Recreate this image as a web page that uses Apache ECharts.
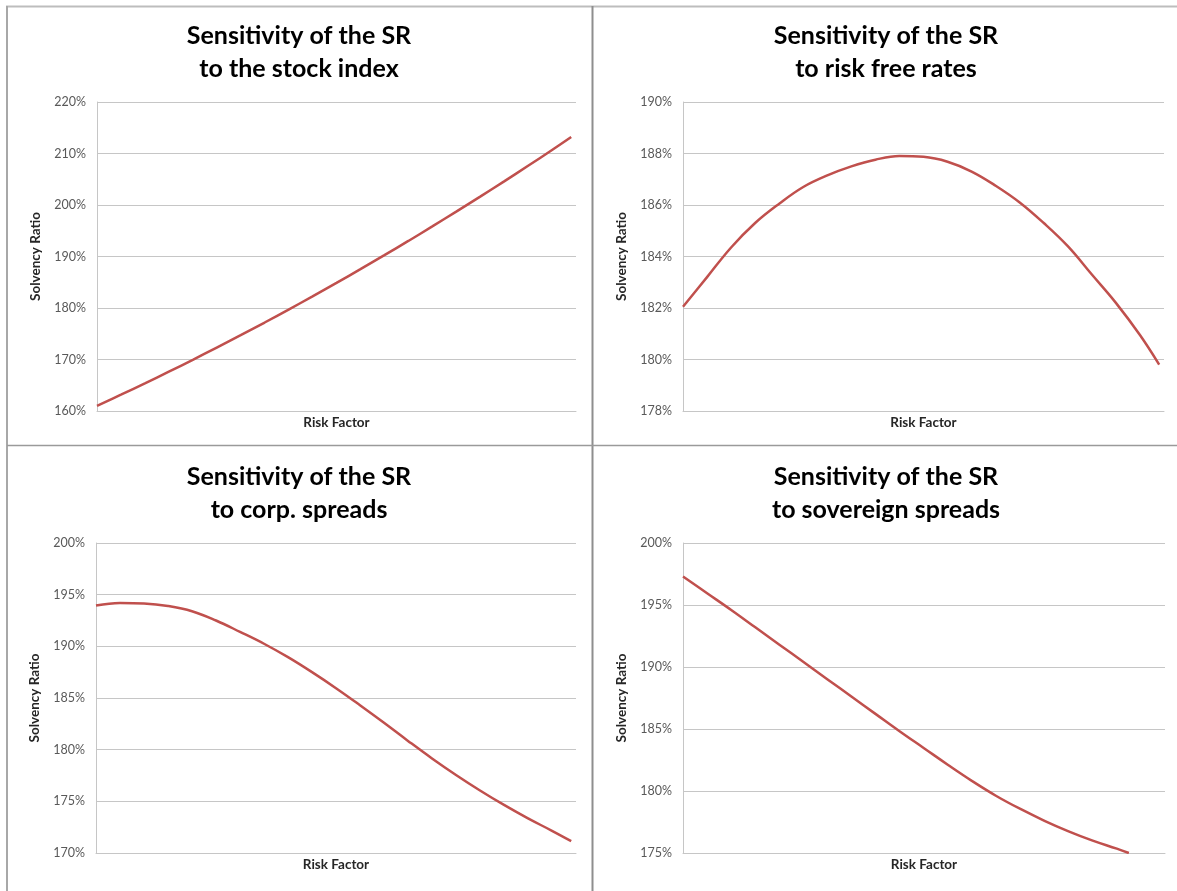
<!DOCTYPE html>
<html>
<head>
<meta charset="utf-8">
<script src="https://cdn.jsdelivr.net/npm/echarts@6/dist/echarts.min.js"></script>
<style>
  html, body { margin: 0; padding: 0; background: #ffffff; }
  #chart { width: 1177px; height: 891px; }
</style>
</head>
<body>
<div id="chart"></div>
<script>
// ---- Data (x = position along the risk factor axis, % of range) ----
const riskFactor = [0, 5, 10, 15, 20, 25, 30, 35, 40, 45, 50, 55, 60, 65, 70, 75, 80, 85, 90, 95, 99];
const riskFactorSov = [0, 5, 10, 15, 20, 25, 30, 35, 40, 45, 50, 55, 60, 65, 70, 75, 80, 85, 90, 92.5];

const srStockIndex = [161.0, 163.16, 165.37, 167.63, 169.94, 172.31, 174.72, 177.18, 179.7, 182.26, 184.88,
                      187.54, 190.26, 193.02, 195.84, 198.71, 201.62, 204.59, 207.61, 210.68, 213.2];
const srRiskFree   = [182.05, 183.2, 184.35, 185.3, 186.05, 186.7, 187.15, 187.5, 187.76, 187.9, 187.87,
                      187.68, 187.3, 186.75, 186.1, 185.3, 184.4, 183.3, 182.2, 180.95, 179.8];
const srCorpSpread = [193.95, 194.2, 194.15, 193.9, 193.4, 192.5, 191.4, 190.25, 188.95, 187.5, 185.95,
                      184.3, 182.6, 180.85, 179.15, 177.55, 176.05, 174.65, 173.35, 172.15, 171.15];
const srSovSpread  = [197.3, 195.95, 194.6, 193.2, 191.8, 190.4, 189.0, 187.6, 186.2, 184.8, 183.45,
                      182.1, 180.8, 179.6, 178.55, 177.6, 176.75, 176.0, 175.35, 175.0];

const panelTitles = [
  'Sensitivity of the SR\nto the stock index',
  'Sensitivity of the SR\nto risk free rates',
  'Sensitivity of the SR\nto corp. spreads',
  'Sensitivity of the SR\nto sovereign spreads'
];
const yRanges = [
  { min: 160, max: 220, interval: 10 },
  { min: 178, max: 190, interval: 2 },
  { min: 170, max: 200, interval: 5 },
  { min: 175, max: 200, interval: 5 }
];
const xAxisName = 'Risk Factor';
const yAxisName = 'Solvency Ratio';

// ---- Layout ----
const grids = [
  { left: 97, top: 102, width: 479, height: 309 },
  { left: 683, top: 102, width: 481, height: 309 },
  { left: 96, top: 543, width: 480, height: 310 },
  { left: 683, top: 543, width: 482, height: 310 }
];
const titlePos = [[299, 19], [886, 19], [299, 460], [886, 460]];

const FONT = 'Lato, "Open Sans", sans-serif';
const lineColor = '#C0504D';
const gridColor = '#c6c6c6';

function pairs(xs, ys) { return xs.map((x, i) => [x, ys[i]]); }
const seriesData = [
  pairs(riskFactor, srStockIndex),
  pairs(riskFactor, srRiskFree),
  pairs(riskFactor, srCorpSpread),
  pairs(riskFactorSov, srSovSpread)
];

const option = {
  backgroundColor: '#ffffff',
  animation: false,
  grid: grids.map(g => Object.assign({ containLabel: false }, g)),
  xAxis: grids.map((g, i) => ({
    type: 'value',
    gridIndex: i,
    min: 0,
    max: 100,
    name: xAxisName,
    nameLocation: 'middle',
    nameGap: 5,
    nameTextStyle: { fontFamily: FONT, fontWeight: 'bold', fontSize: 13.5, color: '#262626', verticalAlign: 'top' },
    axisLine: { show: true, lineStyle: { color: gridColor, width: 1 } },
    axisTick: { show: false },
    axisLabel: { show: false },
    splitLine: { show: false }
  })),
  yAxis: yRanges.map((r, i) => ({
    type: 'value',
    gridIndex: i,
    min: r.min,
    max: r.max,
    interval: r.interval,
    name: yAxisName,
    nameLocation: 'middle',
    nameRotate: 90,
    nameGap: 54,
    nameTextStyle: { fontFamily: FONT, fontWeight: 'bold', fontSize: 13.5, color: '#262626' },
    axisLine: { show: true, lineStyle: { color: gridColor, width: 1 } },
    axisTick: { show: false },
    axisLabel: {
      formatter: v => v + '%',
      fontFamily: FONT, fontSize: 12.5, color: '#595959', margin: 11
    },
    splitLine: { show: true, lineStyle: { color: gridColor, width: 1 } }
  })),
  series: seriesData.map((d, i) => ({
    type: 'line',
    xAxisIndex: i,
    yAxisIndex: i,
    data: d,
    smooth: 0.4,
    showSymbol: false,
    symbol: 'none',
    lineStyle: { color: lineColor, width: 2.5 },
    clip: true
  })),
  graphic: [
    // frame / separators
    { type: 'line', shape: { x1: 6, y1: 6.5, x2: 1177, y2: 6.5 }, style: { stroke: '#bdbdbd', lineWidth: 2 }, z: 10 },
    { type: 'line', shape: { x1: 7, y1: 6, x2: 7, y2: 891 }, style: { stroke: '#a8a8a8', lineWidth: 2 }, z: 10 },
    { type: 'line', shape: { x1: 592.5, y1: 6, x2: 592.5, y2: 891 }, style: { stroke: '#8e8e8e', lineWidth: 2 }, z: 10 },
    { type: 'line', shape: { x1: 7, y1: 445.5, x2: 1177, y2: 445.5 }, style: { stroke: '#9a9a9a', lineWidth: 1.5 }, z: 10 }
  ].concat(panelTitles.map((t, i) => ({
    type: 'text',
    x: titlePos[i][0],
    y: titlePos[i][1],
    style: {
      text: t,
      textAlign: 'center',
      textVerticalAlign: 'top',
      fontFamily: FONT,
      fontWeight: 'bold',
      fontSize: 25,
      lineHeight: 33,
      fill: '#000000'
    },
    z: 10
  })))
};

const chart = echarts.init(document.getElementById('chart'), null, { renderer: 'canvas' });
chart.setOption(option);
</script>
</body>
</html>
